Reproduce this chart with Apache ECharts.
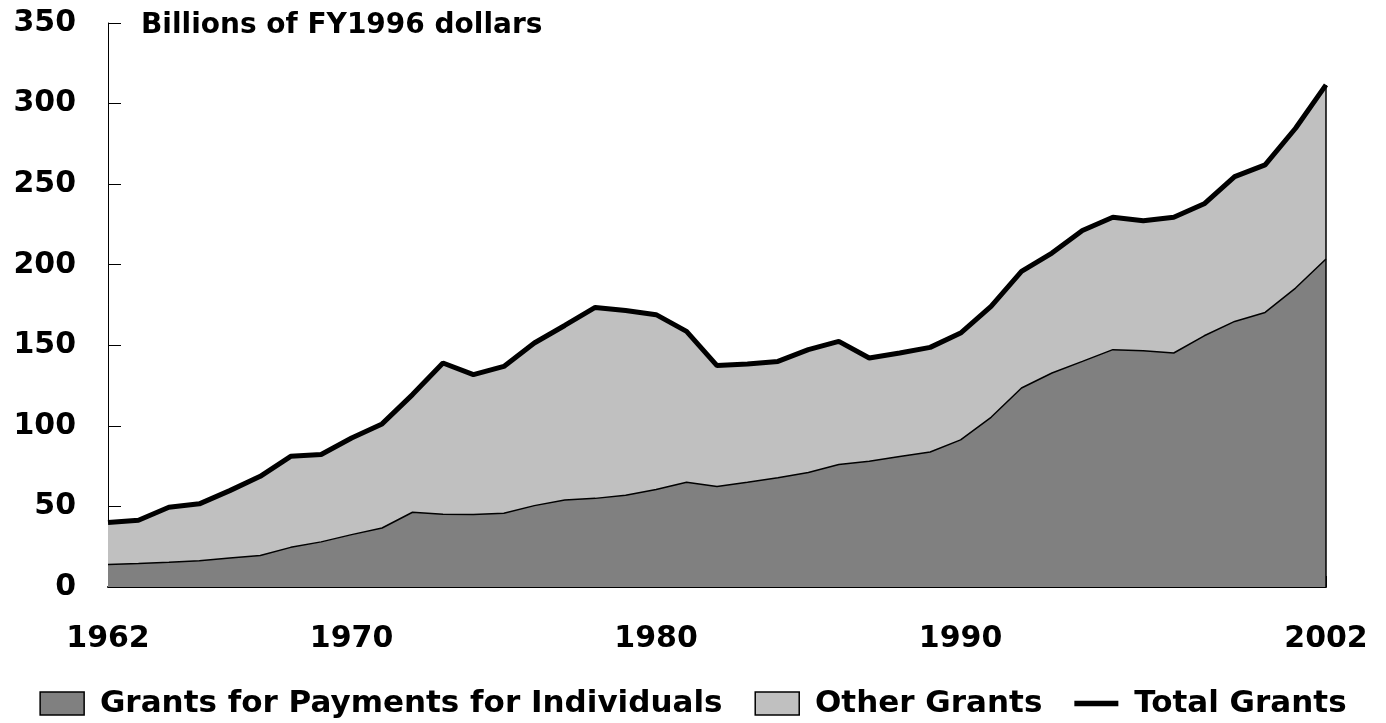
<!DOCTYPE html>
<html>
<head>
<meta charset="utf-8">
<script src="https://cdn.jsdelivr.net/npm/echarts@6/dist/echarts.min.js"></script>
<style>
  html, body { margin: 0; padding: 0; background: #fff; }
  #main { width: 1386px; height: 723px; }
</style>
</head>
<body>
<div id="main"></div>
<script>
// years on the x axis, 1962 to 2002
const years = [];
for (let y = 1962; y <= 2002; y++) years.push(String(y));
const shownYears = ['1962', '1970', '1980', '1990', '2002'];

// billions of FY1996 dollars
const individuals = [14, 14.6, 15.4, 16.3, 18, 19.6, 24.6, 28, 32.5, 36.6,
  46.4, 45.2, 45, 45.8, 50.5, 54, 55, 57, 60.5, 65,
  62.3, 65, 67.8, 71, 76, 78, 81, 83.8, 91.3, 105.3,
  123.5, 132.8, 140, 147.3, 146.6, 145.2, 155.9, 164.8, 170.4, 185.5, 203.5];
const otherGrants = [26, 26.8, 34.1, 35.3, 41.8, 49.1, 56.5, 54.2, 60, 64.6,
  73, 93.8, 86.8, 91.1, 100.9, 108.3, 118.5, 114.6, 108.5, 93.6,
  75.1, 73.4, 72.2, 76.3, 76.4, 64.1, 64.2, 64.9, 66.3, 68.8,
  72.3, 74.4, 81.2, 82.2, 80.7, 84.3, 81.9, 89.9, 91.6, 99.2, 108.1];
const totalGrants = [40, 41.4, 49.5, 51.6, 59.8, 68.7, 81.1, 82.2, 92.5, 101.2,
  119.4, 139, 131.8, 136.9, 151.4, 162.3, 173.5, 171.6, 169, 158.6,
  137.4, 138.4, 140, 147.3, 152.4, 142.1, 145.2, 148.7, 157.6, 174.1,
  195.8, 207.2, 221.2, 229.5, 227.3, 229.5, 237.8, 254.7, 262, 284.7, 311.6];

// wide bold face, closer to the stretched Helvetica of the original
const font = '"DejaVu Sans", Verdana, sans-serif';

const chart = echarts.init(document.getElementById('main'));

const option = {
  animation: false,
  backgroundColor: '#fff',
  title: {
    text: 'Billions of FY1996 dollars',
    left: 136,
    top: 7,
    textStyle: { fontFamily: font, fontWeight: 'bold', fontSize: 28, color: '#000' }
  },
  grid: { left: 108, right: 60, top: 23, bottom: 136 },
  legend: {
    top: 683,
    left: 'center',
    itemWidth: 44,
    itemHeight: 23,
    itemGap: 32,
    formatter: (name) => ' ' + name,
    textStyle: { fontFamily: font, fontWeight: 'bold', fontSize: 31, color: '#000' },
    data: [
      { name: 'Grants for Payments for Individuals', icon: 'rect',
        itemStyle: { color: '#808080', borderColor: '#000', borderWidth: 1.5 } },
      { name: 'Other Grants', icon: 'rect',
        itemStyle: { color: '#c0c0c0', borderColor: '#000', borderWidth: 1.5 } },
      { name: 'Total Grants', icon: 'path://M0,0 H36 V4.5 H0 Z',
        itemStyle: { color: '#000', borderWidth: 0 } }
    ]
  },
  xAxis: {
    type: 'category',
    data: years,
    boundaryGap: false,
    axisLine: { lineStyle: { color: '#000', width: 2 } },
    axisTick: { inside: true, length: 11, interval: 0, lineStyle: { color: '#000', width: 1 } },
    axisLabel: {
      interval: (i, v) => shownYears.includes(v),
      margin: 37,
      fontFamily: font, fontWeight: 'bold', fontSize: 30, color: '#000'
    },
    splitLine: { show: false }
  },
  yAxis: {
    type: 'value',
    min: 0,
    max: 350,
    interval: 50,
    axisLine: { show: true, lineStyle: { color: '#000', width: 1 } },
    axisTick: { show: true, inside: true, length: 13, lineStyle: { color: '#000', width: 1 } },
    axisLabel: { margin: 32, fontFamily: font, fontWeight: 'bold', fontSize: 30, color: '#000' },
    splitLine: { show: false }
  },
  series: [
    {
      name: 'Grants for Payments for Individuals',
      type: 'line',
      stack: 'grants',
      data: individuals,
      symbol: 'none',
      lineStyle: { color: '#000', width: 1.5 },
      itemStyle: { color: '#808080' },
      areaStyle: { color: '#808080', opacity: 1 },
      z: 3
    },
    {
      name: 'Other Grants',
      type: 'line',
      stack: 'grants',
      data: otherGrants,
      symbol: 'none',
      lineStyle: { width: 0 },
      itemStyle: { color: '#c0c0c0' },
      areaStyle: { color: '#c0c0c0', opacity: 1 },
      z: 2,
      markLine: {
        silent: true,
        symbol: 'none',
        label: { show: false },
        lineStyle: { color: '#000', width: 1.5, type: 'solid' },
        data: [[
          { coord: [years[years.length - 1], 0] },
          { coord: [years[years.length - 1], totalGrants[totalGrants.length - 1]] }
        ]]
      }
    },
    {
      name: 'Total Grants',
      type: 'line',
      data: totalGrants,
      symbol: 'none',
      lineStyle: { color: '#000', width: 5 },
      itemStyle: { color: '#000' },
      z: 4
    }
  ]
};

chart.setOption(option);
window.addEventListener('resize', () => chart.resize());
</script>
</body>
</html>
